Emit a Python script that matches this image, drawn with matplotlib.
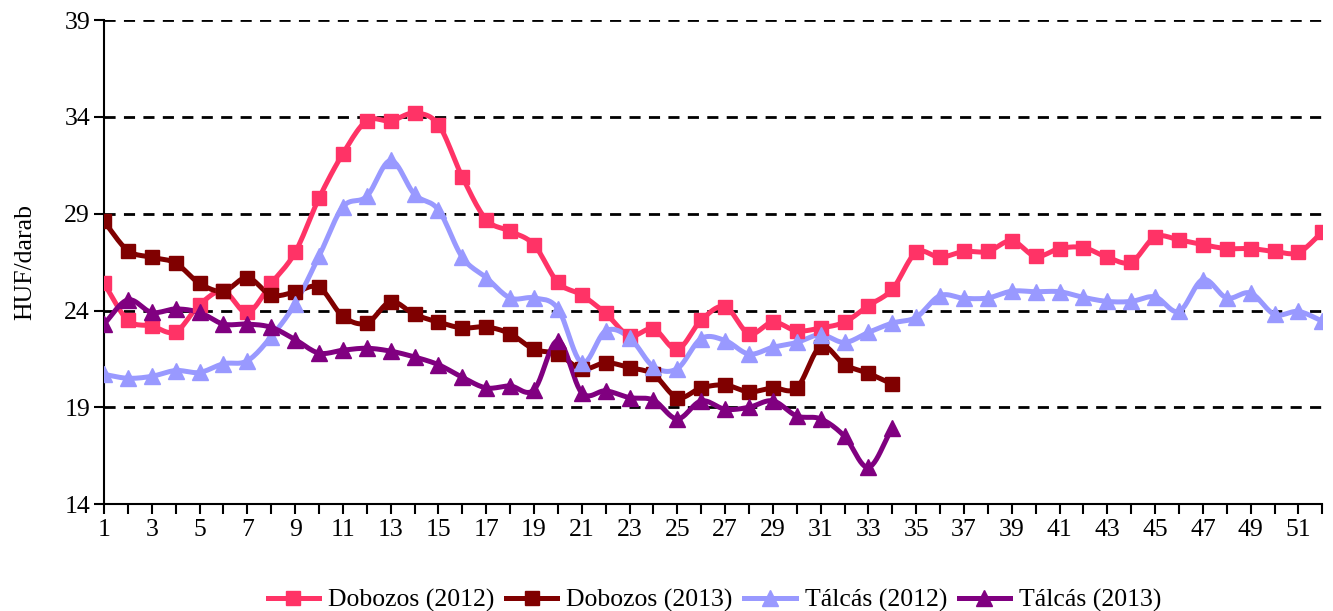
import numpy as np
import matplotlib.pyplot as plt

weeks = np.arange(1, 53)
weeks_2013 = np.arange(1, 35)

dobozos_2012 = [25.4, 23.5, 23.2, 22.9, 24.3, 25.0, 23.9, 25.4, 27.0, 29.8,
                32.1, 33.8, 33.8, 34.2, 33.6, 30.9, 28.7, 28.1, 27.4, 25.45,
                24.8, 23.85, 22.7, 23.05, 22.0, 23.5, 24.2, 22.8, 23.4, 22.95,
                23.1, 23.4, 24.25, 25.1, 27.0, 26.75, 27.05, 27.05, 27.6, 26.8,
                27.2, 27.25, 26.75, 26.5, 27.8, 27.65, 27.4, 27.2, 27.2, 27.05,
                27.0, 28.05]
dobozos_2013 = [28.6, 27.1, 26.75, 26.45, 25.4, 25.0, 25.7, 24.8, 24.95, 25.2,
                23.7, 23.35, 24.45, 23.8, 23.4, 23.1, 23.15, 22.8, 22.0, 21.75,
                20.97, 21.3, 21.05, 20.7, 19.5, 20.0, 20.15, 19.8, 20.0, 20.0,
                22.14, 21.2, 20.75, 20.2]
talcas_2012 = [20.7, 20.5, 20.6, 20.9, 20.8, 21.25, 21.4, 22.65, 24.35, 26.8,
               29.35, 29.9, 31.75, 30.0, 29.2, 26.75, 25.7, 24.65, 24.65, 24.1,
               21.3, 22.95, 22.6, 21.1, 21.0, 22.55, 22.45, 21.75, 22.1, 22.35,
               22.75, 22.35, 22.87, 23.35, 23.65, 24.77, 24.63, 24.65, 25.0, 24.97,
               24.97, 24.68, 24.47, 24.47, 24.7, 23.95, 25.6, 24.65, 24.9, 23.8,
               23.95, 23.45]
talcas_2013 = [23.3, 24.55, 23.9, 24.08, 23.9, 23.3, 23.3, 23.13, 22.5, 21.8,
               21.95, 22.05, 21.9, 21.6, 21.2, 20.55, 20.0, 20.1, 19.9, 22.44,
               19.75, 19.85, 19.5, 19.37, 18.4, 19.33, 18.9, 19.0, 19.33, 18.55,
               18.4, 17.5, 15.9, 17.95]

labels = ['Dobozos (2012)', 'Dobozos (2013)', 'Tálcás (2012)', 'Tálcás (2013)']
colors = ['#FF3366', '#800000', '#9999FF', '#800080']
markers = ['s', 's', '^', '^']


def smooth(x, y, n=12):
    # Catmull-Rom curve through the points, similar to Excel "smoothed line"
    x = np.asarray(x, float)
    y = np.asarray(y, float)
    px = np.concatenate([[2 * x[0] - x[1]], x, [2 * x[-1] - x[-2]]])
    py = np.concatenate([[2 * y[0] - y[1]], y, [2 * y[-1] - y[-2]]])
    t = np.linspace(0, 1, n, endpoint=False)
    xs, ys = [], []
    for i in range(1, len(px) - 2):
        for p, out in ((px, xs), (py, ys)):
            p0, p1, p2, p3 = p[i - 1], p[i], p[i + 1], p[i + 2]
            out.extend(0.5 * (2 * p1 + (-p0 + p2) * t
                              + (2 * p0 - 5 * p1 + 4 * p2 - p3) * t ** 2
                              + (-p0 + 3 * p1 - 3 * p2 + p3) * t ** 3))
    xs.append(x[-1])
    ys.append(y[-1])
    return np.array(xs), np.array(ys)


plt.rcParams['font.family'] = ['Liberation Serif', 'DejaVu Serif']
fs = 18.5

fig = plt.figure(figsize=(13.33, 6.11), dpi=100)
ax = fig.add_axes([0.078, 0.175, 0.914, 0.792])

series = [(weeks, dobozos_2012), (weeks_2013, dobozos_2013),
          (weeks, talcas_2012), (weeks_2013, talcas_2013)]
handles = []
for (x, y), lab, c, m in zip(series, labels, colors, markers):
    sx, sy = smooth(x, y)
    ax.plot(sx, sy, color=c, lw=3.6, solid_capstyle='round', zorder=3)
    ms = 10 if m == 's' else 11
    ax.plot(x, y, ls='none', marker=m, ms=ms, color=c, zorder=4)
    h, = ax.plot([], [], color=c, lw=3.6, marker=m, ms=ms)
    handles.append(h)

ax.set_xlim(1, 52)
ax.set_ylim(14, 39)
ax.set_yticks([14, 19, 24, 29, 34, 39])
ax.set_xticks(weeks)
ax.set_xticklabels([str(w) if w % 2 == 1 else '' for w in weeks])
ax.tick_params(axis='both', labelsize=fs, width=1.5, length=7, direction='out')
ax.tick_params(axis='y', pad=3)
ax.grid(axis='y', color='black', ls=(0, (4, 3)), lw=2)
ax.set_axisbelow(True)
for s in ['top', 'right']:
    ax.spines[s].set_visible(False)
for s in ['left', 'bottom']:
    ax.spines[s].set_linewidth(1.5)
ax.set_ylabel('HUF/darab', fontsize=fs, labelpad=20)

fig.legend(handles, labels, loc='lower center', bbox_to_anchor=(0.536, -0.04),
           ncol=4, frameon=False, fontsize=fs, handlelength=2.0,
           handletextpad=0.35, columnspacing=0.45)

fig.savefig('out.png', dpi=100)
